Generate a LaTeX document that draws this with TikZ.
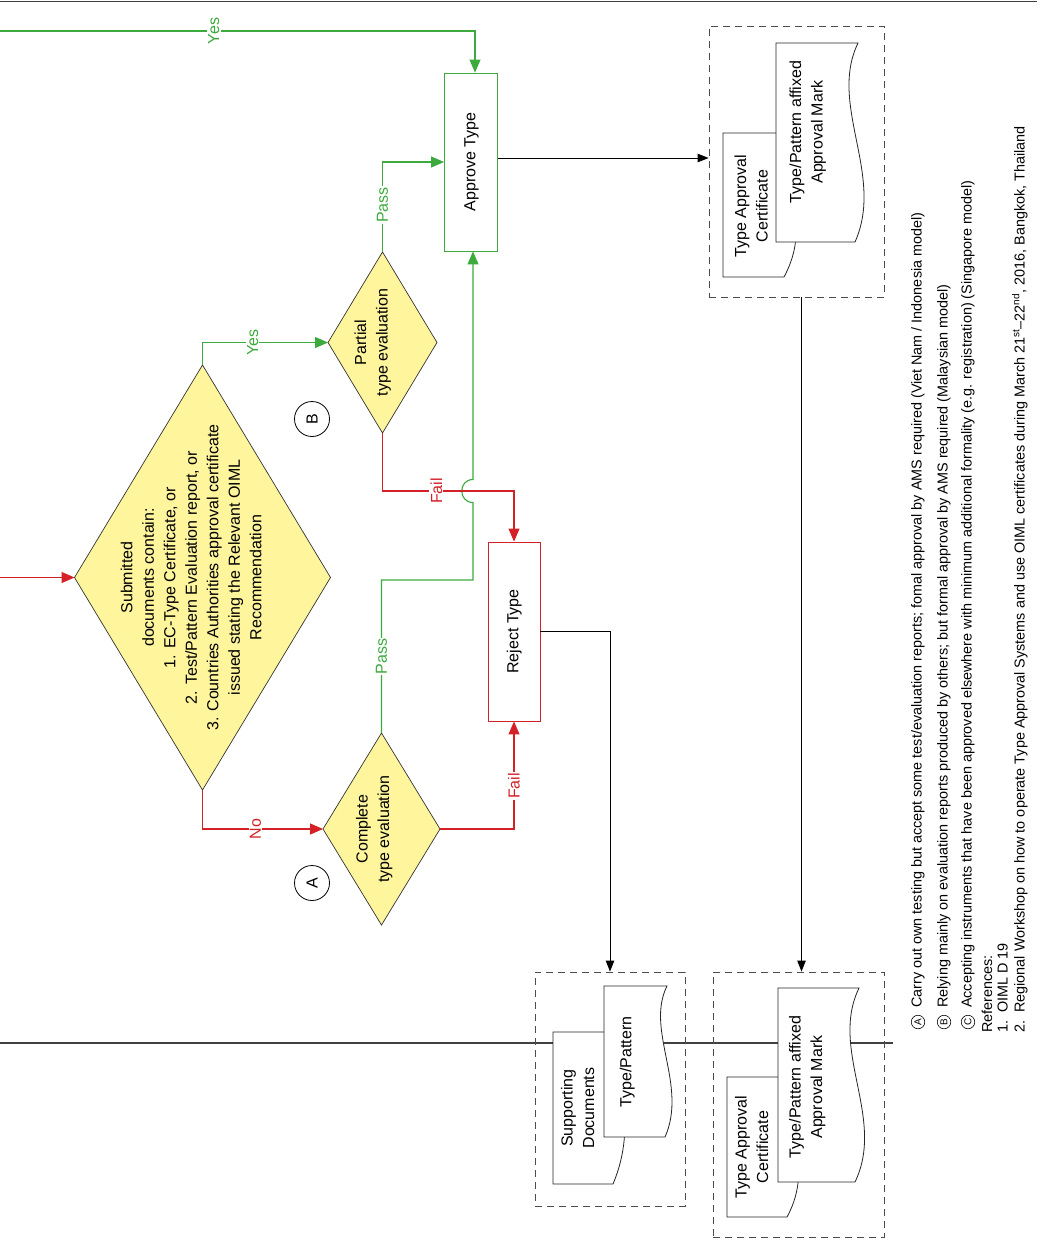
\documentclass[tikz,border=0pt]{standalone}
\usepackage{fontspec}
\setmainfont{Liberation Sans}
\usepackage{graphicx}
\usetikzlibrary{shapes.geometric,arrows.meta,calc}
\definecolor{fgreen}{HTML}{3DAA3D}
\definecolor{fred}{HTML}{D42027}
\definecolor{fyellow}{HTML}{FFF59D}
\definecolor{lanegray}{HTML}{404040}
\newcommand{\rtext}[2][0pt]{\makebox[0pt]{\hspace*{#1}\hspace*{#1}\raisebox{-.5\height}[0pt][0pt]{\rotatebox{90}{\begin{tabular}{@{}c@{}}#2\end{tabular}}}}}
\begin{document}
\begin{tikzpicture}[x=1pt,y=-1pt,
 flowbox/.style={rectangle, draw, line width=0.9pt, fill=white, inner sep=0pt, minimum width=53pt, minimum height=178pt, font=\fontsize{16}{21.5}\selectfont},
 decision/.style={diamond, draw=black!80, line width=0.7pt, fill=fyellow, inner sep=0pt, outer sep=0pt, font=\fontsize{16}{21.5}\selectfont},
 gline/.style={draw=fgreen, line width=1.1pt},
 rline/.style={draw=fred, line width=1.1pt},
 kline/.style={draw=black, line width=0.9pt},
 ctip/.style={-{Triangle[length=13pt,width=11pt]}},
 ktip/.style={-{Triangle[length=11pt,width=8.5pt]}},
 flabel/.style={font=\fontsize{16}{19}\selectfont, rotate=90, fill=white, inner sep=1.2pt},
 dashbox/.style={draw=black!70, dash pattern=on 7pt off 5pt, line width=0.9pt, inner sep=0pt},
 docshape/.style={draw=black!85, fill=white, line width=0.8pt},
 doctext/.style={font=\fontsize{16}{21.5}\selectfont, inner sep=0pt},
 lane/.style={draw=lanegray, line width=1.6pt},
 markcirc/.style={circle, draw, line width=0.8pt, minimum size=35pt, inner sep=0pt, font=\fontsize{16}{19}\selectfont},
 notecirc/.style={circle, draw, line width=0.6pt, minimum size=13.5pt, inner sep=0pt, font=\fontsize{10}{12}\selectfont},
 note/.style={rotate=90, anchor=west, inner sep=0pt, font=\fontsize{14.4}{15.5}\selectfont}
]
\useasboundingbox (0,0) rectangle (1037,1247);
\fill[white] (0,0) rectangle (1037,1247);

% lane lines
\coordinate (laneTL) at (0,1.5);
\coordinate (laneTR) at (1037,1.5);
\coordinate (laneML) at (0,1043);
\coordinate (laneMR) at (893,1043);
\draw[lane] (laneTL) -- (laneTR);
\draw[lane] (laneML) -- (laneMR);

% main nodes
\node[decision, minimum width=256pt, minimum height=425pt] (sub) at (202.5,577.5)
 {\rtext[-10pt]{Submitted\\documents contain:\\1. EC-Type Certificate, or\\2. Test/Pattern Evaluation report, or\\3. Countries Authorities approval certificate\\issued stating the Relevant OIML\\Recommendation}};
\node[decision, minimum width=117pt, minimum height=192pt] (comp) at (381.5,829)
 {\rtext[-7.5pt]{Complete\\type evaluation}};
\node[decision, minimum width=109pt, minimum height=181pt] (part) at (382.5,342.5)
 {\rtext[-10pt]{Partial\\type evaluation}};
\node[flowbox, draw=fgreen] (approve) at (471,162) {\rtext{Approve Type}};
\node[flowbox, draw=fred, minimum width=52pt, minimum height=179pt] (reject) at (514,631.5) {\rtext{Reject Type}};

\node[markcirc] (markA) at (312,883) {\rotatebox{90}{A}};
\node[markcirc] (markB) at (312,419) {\rotatebox{90}{B}};

% dashed output boxes
\node[dashbox, minimum width=175pt, minimum height=271pt] (box1) at (796.5,161.5) {};
\node[dashbox, minimum width=150pt, minimum height=234pt] (box2) at (610,1089) {};
\node[dashbox, minimum width=171pt, minimum height=265pt] (box3) at (798.5,1104.5) {};

% documents in box1
\path[docshape] (723,133) -- (797,133) .. controls (775,178) and (815,220) .. (784,277) -- (723,277) -- cycle;
\node[doctext] (cert1) at (752.5,206) {\rtext{Type Approval\\Certificate}};
\path[docshape] (776,43) -- (858,43) .. controls (828,105) and (885,175) .. (855,242) -- (776,242) -- cycle;
\node[doctext] (mark1) at (807.5,132) {\rtext{Type/Pattern affixed\\Approval Mark}};

% documents in box2
\path[docshape] (553,1032) -- (630,1032) .. controls (610,1075) and (640,1120) .. (613,1184) -- (553,1184) -- cycle;
\node[doctext] (supp) at (579,1108) {\rtext{Supporting\\Documents}};
\path[docshape] (604,986) -- (667,986) .. controls (645,1030) and (688,1085) .. (665,1137) -- (604,1137) -- cycle;
\node[doctext] (tp) at (627,1062) {\rtext{Type/Pattern}};

% documents in box3
\path[docshape] (727,1077) -- (799,1077) .. controls (777,1122) and (817,1162) .. (787,1217) -- (727,1217) -- cycle;
\node[doctext] (cert2) at (753,1147) {\rtext{Type Approval\\Certificate}};
\path[docshape] (778,988) -- (859,988) .. controls (829,1050) and (886,1118) .. (855,1182) -- (778,1182) -- cycle;
\node[doctext] (mark2) at (807,1087) {\rtext{Type/Pattern affixed\\Approval Mark}};

% connectors
\coordinate (leftin) at (0,577.5);
\draw[rline, ctip] (leftin) -- (sub.west);

\coordinate (yesin) at (0,31);
\coordinate (apptop) at ($(approve.north)+(4,0)$);
\draw[gline, ctip] (yesin) -| node[flabel, text=fgreen, pos=0.225] {Yes} (apptop);

\draw[rline, ctip] (sub.south) |- node[flabel, text=fred, pos=0.72] {No} (comp.west);
\draw[gline, ctip] (sub.north) |- node[flabel, text=fgreen, pos=0.7] {Yes} (part.west);
\draw[gline, ctip] (part.north) |- node[flabel, text=fgreen, pos=0.26] {Pass} (approve.west);

\coordinate (passturn) at (473,580);
\coordinate (jumplo) at (473,502.5);
\coordinate (jumphi) at (473,479.5);
\draw[gline, ctip] (comp.north) -- node[flabel, text=fgreen] {Pass} (comp.north |- passturn) -- (passturn) -- (jumplo)
  .. controls (458,502.5) and (458,479.5) .. (jumphi) -- (jumphi |- approve.south);

\coordinate (failrow) at (0,491);
\draw[rline, ctip] (part.south) -- (part.south |- failrow) -- node[flabel, text=fred, pos=0.41] {Fail} (reject.north |- failrow) -- (reject.north);
\draw[rline, ctip] (comp.east) -| node[flabel, text=fred, pos=0.70] {Fail} (reject.south);

\coordinate (appout) at ($(approve.east)+(0,-4)$);
\draw[kline, ktip] (appout) -- (appout -| box1.west);
\coordinate (b1s) at ($(box1.south)+(5,0)$);
\draw[kline, ktip] (b1s) -- (b1s |- box3.north);
\draw[kline, ktip] (reject.east) -| (box2.north);

% notes
\node[notecirc] (nA) at (918,1022) {\rotatebox{90}{A}};
\node[note] (noteA) at (918,1008) {Carry out own testing but accept some test/evaluation reports; fomal approval by AMS required (Viet Nam / Indonesia model)};
\node[notecirc] (nB) at (944,1022) {\rotatebox{90}{B}};
\node[note] (noteB) at (944,1008) {Relying mainly on evaluation reports produced by others; but formal approval by AMS required (Malaysian model)};
\node[notecirc] (nC) at (968,1022) {\rotatebox{90}{C}};
\node[note] (noteC) at (968,1008) {Accepting instruments that have been approved elsewhere with minimum additional formality (e.g. registration) (Singapore model)};
\node[rotate=90, anchor=north west, inner sep=0pt, font=\fontsize{14.4}{15.5}\selectfont] (refs) at (981,1033)
 {\begin{tabular}{@{}l@{\hspace{8pt}}l@{}}\multicolumn{2}{@{}l@{}}{References:}\\
 1. & OIML D 19\\
 2. & Regional Workshop on how to operate Type Approval Systems and use OIML certificates during March 21\textsuperscript{st}–22\textsuperscript{nd}, 2016, Bangkok, Thailand\end{tabular}};
\end{tikzpicture}
\end{document}
